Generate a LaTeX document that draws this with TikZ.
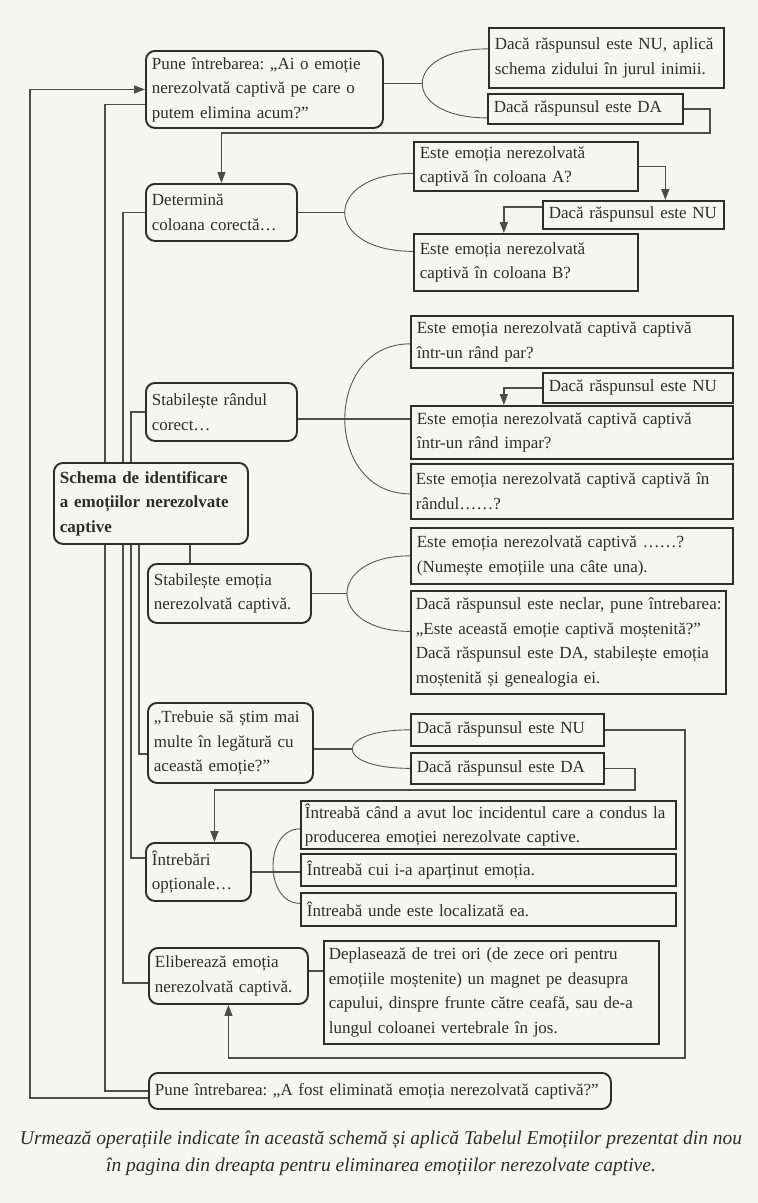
\documentclass[tikz,border=0pt]{standalone}
\usepackage{fontspec}
\setmainfont{Liberation Serif}
\usetikzlibrary{arrows.meta}
\definecolor{ink}{RGB}{45,45,45}
\definecolor{paper}{RGB}{245,245,243}
\newcommand\boxsize{\fontsize{17}{24.5}\selectfont}
\newcommand\jline[1]{\makebox[\linewidth][s]{#1}\\}
\pgfdeclarelayer{sheet}
\pgfdeclarelayer{wires}
\pgfsetlayers{sheet,wires,main}
\frenchspacing

\begin{document}
\begin{tikzpicture}[x=1pt,y=-1pt,
  every node/.style={font=\boxsize,text=ink},
  stage/.style 2 args={draw=ink,line width=1.9pt,rounded corners=9pt,fill=paper,anchor=north west,align=left,inner xsep=6pt,inner ysep=1pt,text width=#1pt-12pt,minimum width=#1pt,minimum height=#2pt},
  reply/.style 2 args={stage={#1}{#2},sharp corners,line width=1.7pt},
  wire/.style={draw=ink!85,line width=1.3pt},
  brace/.style={draw=ink!80,line width=0.9pt},
  tip/.style={-{Triangle[length=11pt,width=8pt]}}]
\useasboundingbox (0,0) rectangle (758,1203);
\begin{pgfonlayer}{sheet}
\fill[paper] (0,0) rectangle (758,1203);
\end{pgfonlayer}
\coordinate (rail0) at (30,0);
\coordinate (rail1) at (105,0);
\coordinate (rail2) at (123,0);
\coordinate (rail3) at (131,0);
\coordinate (rail4) at (139,0);
\coordinate (rail5) at (190,0);
\coordinate (bend1) at (710,133);
\coordinate (bend2) at (685,1058);
\coordinate (bend3) at (635,790);
\node[stage={237}{77}] (ask) at (145,50) {Pune întrebarea: „Ai o emoție\\nerezolvată captivă pe care o\\putem elimina acum?”};
\node[reply={235}{60}] (wall) at (488,27) {Dacă răspunsul este NU, aplică\\schema zidului în jurul inimii.};
\node[reply={195}{30}] (yes1) at (487,93) {Dacă răspunsul este DA};
\node[stage={151}{57}] (col) at (145,183) {Determină\\coloana corectă…};
\node[reply={224}{49}] (colA) at (413,141) {Este emoția nerezolvată\\captivă în coloana A?};
\node[reply={181}{28}] (no1) at (542,200) {Dacă răspunsul este NU};
\node[reply={224}{57}] (colB) at (413,233) {Este emoția nerezolvată\\captivă în coloana B?};
\node[stage={151}{58}] (row) at (145,382) {Stabilește rândul\\corect…};
\node[reply={322}{52}] (rowEven) at (410,315) {Este emoția nerezolvată captivă captivă\\într-un rând par?};
\node[reply={190}{30}] (no2) at (542,372) {Dacă răspunsul este NU};
\node[reply={322}{53}] (rowOdd) at (410,405) {Este emoția nerezolvată captivă captivă\\într-un rând impar?};
\node[reply={322}{55},inner xsep=5pt,text width=312pt] (rowN) at (410,463) {Este emoția nerezolvată captivă captivă în\\rândul……?};
\node[stage={194}{81},font=\boxsize\bfseries] (main) at (53,462) {Schema de identificare\\a emoțiilor nerezolvate\\captive};
\node[stage={163}{59}] (emo) at (147,563) {Stabilește emoția\\nerezolvată captivă.};
\node[reply={322}{56}] (emoName) at (410,527) {Este emoția nerezolvată captivă ……?\\(Numește emoțiile una câte una).};
\node[reply={315}{103},inner xsep=5pt,text width=305pt] (emoInh) at (410,590) {\jline{Dacă răspunsul este neclar, pune întrebarea:}\jline{„Este această emoție captivă moștenită?”}\jline{Dacă răspunsul este DA, stabilește emoția}moștenită și genealogia ei.};
\node[stage={165}{80}] (more) at (147,702) {\jline{„Trebuie să știm mai}\jline{multe în legătură cu}această emoție?”};
\node[reply={193}{32}] (no3) at (410,713) {Dacă răspunsul este NU};
\node[reply={193}{31}] (yes3) at (410,752) {Dacă răspunsul este DA};
\node[stage={105}{58}] (opt) at (145,842) {Întrebări\\opționale…};
\node[reply={375}{48},inner xsep=4pt,text width=367pt] (when) at (300,800) {\mbox{Întreabă când a avut loc incidentul care a condus la}\\producerea emoției nerezolvate captive.};
\node[reply={375}{32}] (whose) at (300,853) {Întreabă cui i-a aparținut emoția.};
\node[reply={375}{33}] (where) at (300,892) {Întreabă unde este localizată ea.};
\node[stage={159}{56}] (free) at (148,947) {Eliberează emoția\\nerezolvată captivă.};
\node[reply={335}{103},inner xsep=5pt,text width=325pt] (magnet) at (323,940) {\jline{Deplasează de trei ori (de zece ori pentru}\jline{emoțiile moștenite) un magnet pe deasupra}\jline{capului, dinspre frunte către ceafă, sau de-a}lungul coloanei vertebrale în jos.};
\node[stage={462}{36}] (done) at (148,1072) {\mbox{Pune întrebarea: „A fost eliminată emoția nerezolvată captivă?”}};
\node[font=\itshape\fontsize{19.5}{27}\selectfont,align=center] (caption) at (381,1153) {Urmează operațiile indicate în această schemă și aplică Tabelul Emoțiilor prezentat din nou\\în pagina din dreapta pentru eliminarea emoțiilor nerezolvate captive.};
\begin{pgfonlayer}{wires}
\draw[wire,tip] ([yshift=-7pt]done.west) -| (rail0 |- ask.west) -- (ask.west);
\draw[wire] ([yshift=-15pt]ask.west) -| (rail1 |- done.west) -- (done.west);
\draw[wire] (col.west) -| ([yshift=-7pt]rail2 |- free.west) -- ([yshift=-7pt]free.west);
\draw[wire] (row.west) -| (rail3 |- main.north);
\draw[wire] (main.south -| rail3) |- ([yshift=14pt]opt.west);
\draw[wire] (main.south -| rail4) |- ([yshift=-11pt]more.west);
\draw[wire] (main.south -| rail5) -- (emo.north -| rail5);
\draw[brace] ([yshift=9pt]wall.west) .. controls +(-87,0) and +(-87,0) .. coordinate[pos=0.5] (k1) ([yshift=-9pt]yes1.west);
\draw[wire] (ask.east |- k1) -- (k1);
\draw[wire,tip] (yes1.east) -| (bend1) -| (col.north);
\draw[brace] ([yshift=-7pt]colA.west) .. controls +(-91,0) and +(-91,0) .. coordinate[pos=0.5] (k2) ([yshift=11pt]colB.west);
\draw[wire] (col.east |- k2) -- (k2);
\draw[wire,tip] (colA.east) -| ([xshift=32pt]no1.north);
\draw[wire,tip] ([yshift=8pt]no1.west) -| ([xshift=-22pt]colB.north);
\draw[brace] ([yshift=-2pt]rowEven.west) .. controls +(-87,0) and +(-87,0) .. coordinate[pos=0.5] (k3) ([yshift=-2.5pt]rowN.west);
\draw[wire] (row.east |- k3) -- (rowOdd.west |- k3);
\draw[wire,tip] (no2.west) -| ([xshift=-68pt]rowOdd.north);
\draw[brace] (emoName.west) .. controls +(-84,0) and +(-84,0) .. coordinate[pos=0.5] (k4) ([yshift=11pt]emoInh.west);
\draw[wire] (emo.east |- k4) -- (k4);
\draw[brace] (no3.west) .. controls +(-77,0) and +(-77,0) .. coordinate[pos=0.5] (k5) (yes3.west);
\draw[wire] (more.east |- k5) -- (k5);
\draw[wire,tip] (no3.east) -| (bend2) -| (free.south);
\draw[wire,tip] (yes3.east) -| (bend3) -| ([xshift=16pt]opt.north);
\draw[brace] ([yshift=-4pt]when.west) .. controls +(-36,0) and +(-36,0) .. ([yshift=6pt]where.west);
\draw[wire] (opt.east) -- (opt.east -| whose.west);
\draw[wire] ([yshift=5pt]free.east) -- ([yshift=5pt]free.east -| magnet.west);
\end{pgfonlayer}
\end{tikzpicture}
\end{document}
